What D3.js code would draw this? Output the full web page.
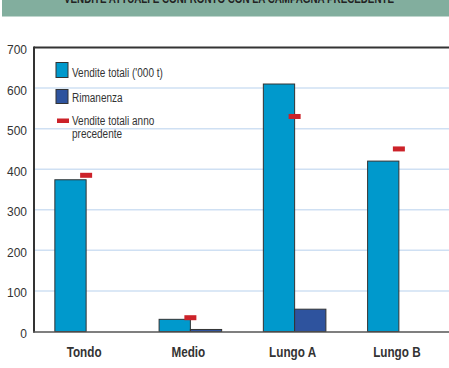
<!DOCTYPE html>
<html>
<head>
<meta charset="utf-8">
<script src="https://cdn.jsdelivr.net/npm/d3@7"></script>
<style>
  body { margin: 0; background: #fff; }
  svg { display: block; }
</style>
</head>
<body>
<div id="chart"></div>
<script>
// dati
const categorie = ["Tondo", "Medio", "Lungo A", "Lungo B"];
const venditeTotali = [374, 30, 610, 420];
const rimanenza = [0, 5, 55, 0];
const annoPrecedente = [385, 34, 530, 450];
const yTicks = [0, 100, 200, 300, 400, 500, 600, 700];
const legendaTesti = ["Vendite totali ('000 t)", "Rimanenza", "Vendite totali anno", "precedente"];
const titolo = "VENDITE ATTUALI E CONFRONTO CON LA CAMPAGNA PRECEDENTE";

const W = 449, H = 368;
const colBlu = "#0099cc", colScuro = "#2e539e", colRosso = "#cc2229";
const font = "'Liberation Sans', Arial, sans-serif";

const svg = d3.select("#chart").append("svg")
  .attr("width", W).attr("height", H);

// stringe il testo orizzontalmente (font condensato non disponibile)
function stringi(sel, k) {
  sel.each(function () {
    const len = this.getComputedTextLength();
    d3.select(this).attr("textLength", len * k).attr("lengthAdjust", "spacingAndGlyphs");
  });
}

// banda del titolo (tagliata in alto)
svg.append("rect").attr("x", 2).attr("y", 0).attr("width", W - 2).attr("height", 16.5)
  .attr("fill", "#82ae9e");
svg.append("text")
  .attr("x", 64).attr("y", 3.3)
  .attr("textLength", 330).attr("lengthAdjust", "spacingAndGlyphs")
  .attr("font-family", font).attr("font-weight", "bold").attr("font-size", 13)
  .attr("fill", "#222")
  .text(titolo);

// scale
const y = d3.scaleLinear().domain([0, 700]).range([331.5, 47.5]);
const x = d3.scaleBand().domain(categorie).range([34, 451])
  .paddingInner(0.4).paddingOuter(0.2);
const xs = d3.scaleBand().domain([0, 1]).range([0, x.bandwidth()]);

// griglia
svg.append("g").selectAll("line").data(yTicks.filter(d => d > 0 && d < 700)).join("line")
  .attr("x1", 35).attr("x2", W)
  .attr("y1", d => y(d)).attr("y2", d => y(d))
  .attr("stroke", "#cfe0f3").attr("stroke-width", 1.5);

// etichette asse y
const yAxis = d3.axisLeft(y).tickValues(yTicks).tickSize(0).tickPadding(7);
const ga = svg.append("g").attr("transform", "translate(34,0)").call(yAxis);
ga.select(".domain").remove();
ga.selectAll("text")
  .attr("font-family", font)
  .attr("font-size", 12).attr("fill", "#333").attr("dy", "0.5em");

// barre
const g = svg.append("g");
categorie.forEach((c, i) => {
  const vals = [venditeTotali[i], rimanenza[i]];
  vals.forEach((v, j) => {
    if (v <= 0) return;
    g.append("rect")
      .attr("x", x(c) + xs(j)).attr("y", y(v))
      .attr("width", xs.bandwidth()).attr("height", y(0) - y(v))
      .attr("fill", j === 0 ? colBlu : colScuro)
      .attr("stroke", "#333").attr("stroke-width", 1);
  });
});

// segni anno precedente
g.selectAll(".prec").data(categorie).join("rect")
  .attr("class", "prec")
  .attr("x", d => x(d) + xs.bandwidth() - 6)
  .attr("y", (d, i) => y(annoPrecedente[i]) - 2.5)
  .attr("width", 12).attr("height", 5)
  .attr("fill", colRosso);

// assi
svg.append("line").attr("x1", 34).attr("x2", W).attr("y1", 47.5).attr("y2", 47.5)
  .attr("stroke", "#333").attr("stroke-width", 2);
svg.append("line").attr("x1", 34).attr("x2", 34).attr("y1", 46.5).attr("y2", 332.5)
  .attr("stroke", "#333").attr("stroke-width", 2);
svg.append("line").attr("x1", 33).attr("x2", W).attr("y1", 332).attr("y2", 332)
  .attr("stroke", "#555").attr("stroke-width", 1.5);

// etichette categorie
svg.append("g").selectAll("text").data(categorie).join("text")
  .attr("x", d => x(d) + x.bandwidth() / 2 - 2)
  .attr("y", 357)
  .attr("text-anchor", "middle")
  .attr("font-family", font).attr("font-weight", "bold").attr("font-size", 15)
  .attr("fill", "#333")
  .text(d => d)
  .call(stringi, 0.78);

// legenda
const leg = svg.append("g").attr("font-family", font).attr("font-size", 12.5).attr("fill", "#333");
leg.append("rect").attr("x", 56).attr("y", 62.5).attr("width", 12).attr("height", 15)
  .attr("fill", colBlu).attr("stroke", "#333");
leg.append("rect").attr("x", 56).attr("y", 89.5).attr("width", 12).attr("height", 14)
  .attr("fill", colScuro).attr("stroke", "#333");
leg.append("rect").attr("x", 57).attr("y", 118.5).attr("width", 12).attr("height", 4.5)
  .attr("fill", colRosso);
const legY = [77, 102, 125, 137.5];
leg.selectAll("text").data(legendaTesti).join("text")
  .attr("x", 72).attr("y", (d, i) => legY[i])
  .text(d => d)
  .call(stringi, 0.8);
</script>
</body>
</html>
